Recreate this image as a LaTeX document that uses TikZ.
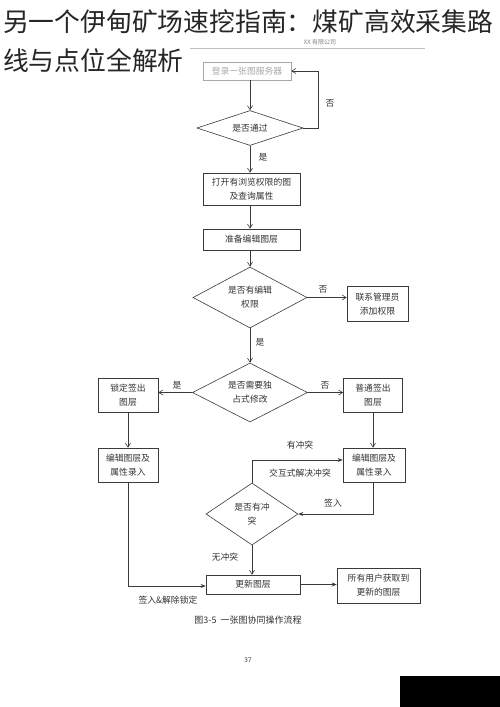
\documentclass[tikz,border=0pt]{standalone}
\usepackage{fontspec}
\newfontfamily\cjk{Noto Sans CJK SC}
\usetikzlibrary{shapes.geometric,arrows.meta}
\definecolor{ln}{HTML}{3A3A3A}
\definecolor{txt}{HTML}{333333}
\definecolor{faint}{HTML}{A8A8A8}
\begin{document}
\begin{tikzpicture}[x=1pt,y=-1pt,
 every node/.style={font=\cjk\fontsize{8.8}{14}\selectfont, text=txt},
 box/.style={draw=ln, line width=0.6pt, inner sep=0pt, align=center},
 dia/.style={diamond, draw=ln, line width=0.6pt, inner sep=0pt, align=center, aspect=2},
 lbl/.style={inner sep=0pt},
 flow/.style={draw=ln, line width=0.6pt, -{Straight Barb[length=4pt,width=5pt]}},
 flowf/.style={draw=ln, line width=0.6pt, -{Stealth[length=5pt,width=4pt]}},
]
\useasboundingbox (0,0) rectangle (500,707);
\fill[white] (0,0) rectangle (500,707);

% title
\node[anchor=west, inner sep=0pt, font=\cjk\fontsize{25.8}{39}\selectfont, text=black!85] (t1) at (3,22) {另一个伊甸矿场速挖指南：煤矿高效采集路};
\node[anchor=west, inner sep=0pt, font=\cjk\fontsize{25.8}{39}\selectfont, text=black!85] (t2) at (3,61) {线与点位全解析};

% page header
\draw[gray!50, line width=0.4pt] (190,48) -- (425,48);
\node[lbl, font=\cjk\fontsize{6}{7}\selectfont, text=gray] (hdr) at (320,42) {XX 有限公司};

% nodes
\node[box, draw=faint, text=faint, minimum width=88pt, minimum height=18pt] (b1) at (247,71) {登录一张图服务器};
\node[dia, aspect=3, minimum width=106pt, minimum height=35pt] (d1) at (250,128) {是否通过};
\node[box, minimum width=97pt, minimum height=32pt] (b2) at (251.5,189) {打开有浏览权限的图\\及查询属性};
\node[box, minimum width=97pt, minimum height=21pt] (b3) at (251.5,239.5) {准备编辑图层};
\node[dia, minimum width=114pt, minimum height=61pt] (d2) at (250,297.5) {是否有编辑\\权限};
\node[box, minimum width=61pt, minimum height=35pt] (adm) at (377.5,304) {联系管理员\\添加权限};
\node[dia, minimum width=115pt, minimum height=59pt] (d3) at (250,392.5) {是否需要独\\占式修改};
\node[box, minimum width=60pt, minimum height=34pt] (bl1) at (128,395) {锁定签出\\图层};
\node[box, minimum width=59pt, minimum height=34pt] (br1) at (373,395) {普通签出\\图层};
\node[box, minimum width=60pt, minimum height=34pt] (bl2) at (128,465) {编辑图层及\\属性录入};
\node[box, minimum width=62pt, minimum height=34pt] (br2) at (374,465) {编辑图层及\\属性录入};
\node[dia, aspect=1.5, minimum width=92pt, minimum height=62pt] (d4) at (252,514) {是否有冲\\突};
\node[box, minimum width=94pt, minimum height=19pt] (bu) at (253,584.5) {更新图层};
\node[box, minimum width=83pt, minimum height=35pt] (ba) at (378.5,585.5) {所有用户获取到\\更新的图层};

% connectors
\draw[flow] (b1.south -| d1.north) -- (d1.north);
\draw[flow] (d1.east) -- ++(15,0) |- (b1.east);
\node[lbl] (l1) at (330,103) {否};
\draw[flow] (d1.south) -- (d1.south |- b2.north);
\node[lbl] (l2) at (263,157) {是};
\draw[flow] (b2.south -| d1.south) -- (b3.north -| d1.south);
\draw[flow] (b3.south -| d2.north) -- (d2.north);
\draw[flow] (d2.east) -- (d2.east -| adm.west);
\node[lbl] (l3) at (323,289) {否};
\draw[flow] (d2.south) -- (d3.north);
\node[lbl] (l4) at (260,342) {是};
\draw[flow] (d3.west) -- (d3.west -| bl1.east);
\node[lbl] (l5) at (177,385) {是};
\draw[flow] (d3.east) -- (d3.east -| br1.west);
\node[lbl] (l6) at (325,385) {否};
\draw[flow] (bl1.south) -- (bl2.north);
\draw[flow] (br1.south) -- (br1.south |- br2.north);
\draw[flowf] (d4.north) |- ([yshift=5pt]br2.west);
\node[lbl] (l7) at (300,445) {有冲突};
\node[lbl] (l8) at (300,473) {交互式解决冲突};
\draw[flowf] (br1.south |- br2.south) |- (d4.east);
\node[lbl] (l9) at (333,503) {签入};
\draw[flow] (d4.south) -- (d4.south |- bu.north);
\node[lbl] (l10) at (225,557) {无冲突};
\draw[flowf] (bl2.south) |- ([yshift=-1.5pt]bu.west);
\node[lbl] (l11) at (168,600) {签入\&解除锁定};
\draw[flowf] (bu.east) -- (bu.east -| ba.west);

% caption and page number
\node[lbl, font=\cjk\fontsize{9}{11}\selectfont] (cap) at (248,620) {图3-5\ \ 一张图协同操作流程};
\node[lbl, font=\cjk\fontsize{6.5}{8}\selectfont] (pg) at (248,660) {37};

% watermark block
\fill[black] (400,676) rectangle (500,707);
\end{tikzpicture}
\end{document}
